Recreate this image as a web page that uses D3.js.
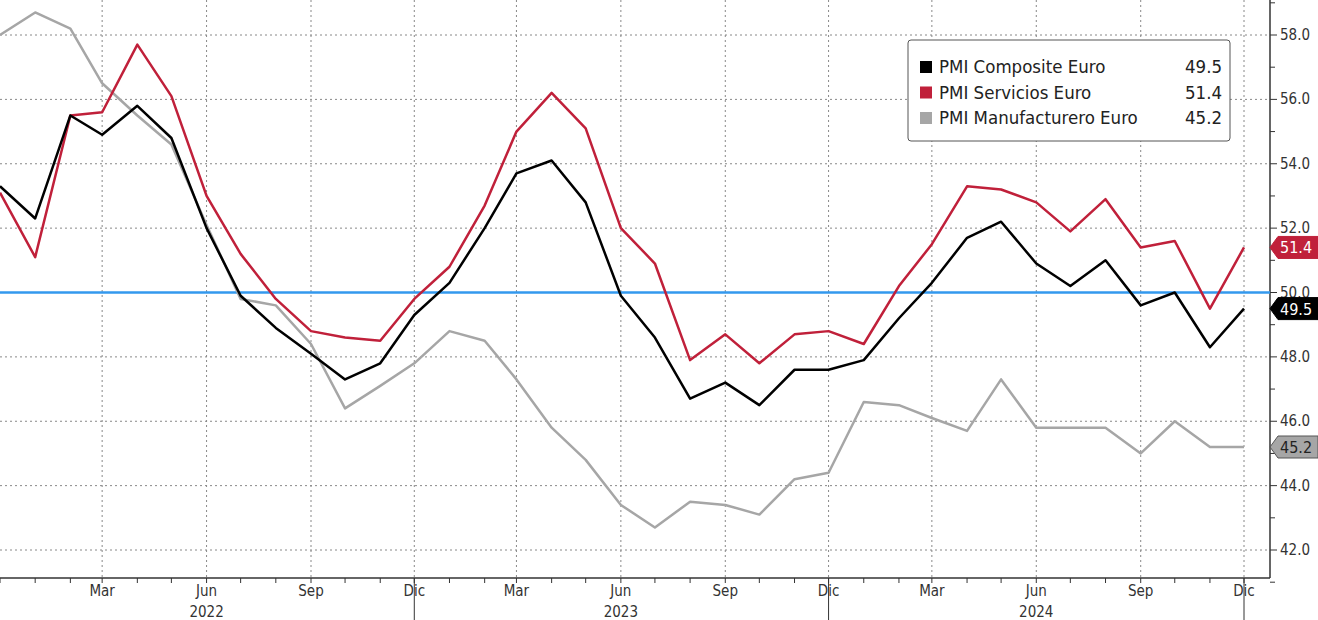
<!DOCTYPE html>
<html lang="en">
<head>
<meta charset="UTF-8">
<title>PMI Euro</title>
<script src="https://d3js.org/d3.v7.min.js"></script>
<style>
  body { margin: 0; background: #fff; }
  svg { font-family: "DejaVu Sans Condensed", "DejaVu Sans", sans-serif; }
</style>
</head>
<body>
<div id="chart"></div>
<script>
// months Dec 2021 .. Dec 2024
const months = d3.range(37).map(i => new Date(2021, 11 + i, 1));
const composite = [53.3, 52.3, 55.5, 54.9, 55.8, 54.8, 52.0, 49.9, 48.9, 48.1, 47.3, 47.8, 49.3,
  50.3, 52.0, 53.7, 54.1, 52.8, 49.9, 48.6, 46.7, 47.2, 46.5, 47.6, 47.6,
  47.9, 49.2, 50.3, 51.7, 52.2, 50.9, 50.2, 51.0, 49.6, 50.0, 48.3, 49.5];
const services = [53.1, 51.1, 55.5, 55.6, 57.7, 56.1, 53.0, 51.2, 49.8, 48.8, 48.6, 48.5, 49.8,
  50.8, 52.7, 55.0, 56.2, 55.1, 52.0, 50.9, 47.9, 48.7, 47.8, 48.7, 48.8,
  48.4, 50.2, 51.5, 53.3, 53.2, 52.8, 51.9, 52.9, 51.4, 51.6, 49.5, 51.4];
const manufacturing = [58.0, 58.7, 58.2, 56.5, 55.5, 54.6, 52.1, 49.8, 49.6, 48.4, 46.4, 47.1, 47.8,
  48.8, 48.5, 47.3, 45.8, 44.8, 43.4, 42.7, 43.5, 43.4, 43.1, 44.2, 44.4,
  46.6, 46.5, 46.1, 45.7, 47.3, 45.8, 45.8, 45.8, 45.0, 46.0, 45.2, 45.2];
const seriesNames = ["PMI Composite Euro", "PMI Servicios Euro", "PMI Manufacturero Euro"];
const seriesColors = ["#000000", "#c0203a", "#a6a6a6"];
const monthNames = ["Ene", "Feb", "Mar", "Abr", "May", "Jun", "Jul", "Ago", "Sep", "Oct", "Nov", "Dic"];
const yTicks = [42, 44, 46, 48, 50, 52, 54, 56, 58];
const years = [2022, 2023, 2024];
const refLine = 50;

const W = 1318, H = 620;
const svg = d3.select("#chart").append("svg").attr("width", W).attr("height", H);

const x = d3.scaleTime().domain([months[0], months[36]]).range([0, 1244]);
const y = d3.scaleLinear().domain([42, 58]).range([550, 35]);
const axisX = 1270, axisY = 578;

// grid
const quarters = months.filter((d, i) => i > 0 && d.getMonth() % 3 === 2);
svg.append("g").selectAll("line").data(quarters).join("line")
  .attr("x1", d => x(d)).attr("x2", d => x(d)).attr("y1", 0).attr("y2", axisY)
  .attr("stroke", "#888").attr("stroke-dasharray", "2,3");
svg.append("g").selectAll("line").data(yTicks).join("line")
  .attr("x1", 0).attr("x2", axisX).attr("y1", d => y(d)).attr("y2", d => y(d))
  .attr("stroke", "#888").attr("stroke-dasharray", "2,3");

// axes
svg.append("line").attr("x1", 0).attr("x2", axisX).attr("y1", axisY).attr("y2", axisY).attr("stroke", "#333").attr("stroke-width", 1.5);
svg.append("line").attr("x1", axisX).attr("x2", axisX).attr("y1", 0).attr("y2", axisY).attr("stroke", "#333").attr("stroke-width", 1.5);
svg.append("g").selectAll("line").data(months).join("line")
  .attr("x1", d => x(d)).attr("x2", d => x(d)).attr("y1", axisY).attr("y2", axisY + 5).attr("stroke", "#333");
// year separators
svg.append("g").selectAll("line").data(months.filter((d, i) => i > 0 && d.getMonth() === 11)).join("line")
  .attr("x1", d => x(d)).attr("x2", d => x(d)).attr("y1", axisY).attr("y2", H).attr("stroke", "#333");
svg.append("g").selectAll("text").data(quarters).join("text")
  .attr("x", d => x(d)).attr("y", 596).attr("text-anchor", "middle")
  .attr("font-size", 15).attr("fill", "#333").text(d => monthNames[d.getMonth()]);
svg.append("g").selectAll("text").data(years).join("text")
  .attr("x", d => x(new Date(d, 5, 1))).attr("y", 617).attr("text-anchor", "middle")
  .attr("font-size", 15).attr("fill", "#333").text(d => d);

// y ticks
svg.append("g").selectAll("line").data(d3.range(41, 60)).join("line")
  .attr("x1", axisX).attr("x2", d => axisX + (d % 2 === 0 ? 7 : 5)).attr("y1", d => y(d)).attr("y2", d => y(d))
  .attr("stroke", "#333");
svg.append("g").selectAll("text").data(yTicks).join("text")
  .attr("x", axisX + 10).attr("y", d => y(d) + 5).attr("font-size", 15).attr("fill", "#333")
  .text(d => d.toFixed(1));

// reference line
svg.append("line").attr("x1", 0).attr("x2", axisX).attr("y1", y(refLine)).attr("y2", y(refLine))
  .attr("stroke", "#3399ee").attr("stroke-width", 2.5);

// lines
const data = [composite, services, manufacturing];
const line = d3.line().x((d, i) => x(months[i])).y(d => y(d));
[2, 1, 0].forEach(k => {
  svg.append("path").datum(data[k]).attr("d", line).attr("fill", "none")
    .attr("stroke", seriesColors[k]).attr("stroke-width", 2.5).attr("stroke-linejoin", "round");
});

// last value tags
data.forEach((s, k) => {
  const v = s[s.length - 1], cy = y(v);
  const g = svg.append("g");
  g.append("path")
    .attr("d", `M${axisX},${cy} L${axisX + 8},${cy - 11} L${W},${cy - 11} L${W},${cy + 11} L${axisX + 8},${cy + 11} Z`)
    .attr("fill", seriesColors[k]).attr("stroke", k === 2 ? "#555" : seriesColors[k]);
  g.append("text").attr("x", axisX + 10).attr("y", cy + 6).attr("font-size", 16)
    .attr("fill", k === 2 ? "#222" : "#fff").text(v.toFixed(1));
});

// legend
const lg = svg.append("g").attr("transform", "translate(908,40)");
lg.append("rect").attr("width", 322).attr("height", 101).attr("rx", 3)
  .attr("fill", "#fff").attr("stroke", "#555");
seriesNames.forEach((n, k) => {
  const yy = 33 + k * 25.5;
  lg.append("rect").attr("x", 12).attr("y", yy - 12).attr("width", 12).attr("height", 12).attr("fill", seriesColors[k]);
  lg.append("text").attr("x", 31).attr("y", yy).attr("font-size", 18.5).attr("fill", "#222").text(n);
  lg.append("text").attr("x", 314).attr("y", yy).attr("text-anchor", "end").attr("font-size", 18.5).attr("fill", "#222")
    .text(data[k][data[k].length - 1].toFixed(1));
});
</script>
</body>
</html>
